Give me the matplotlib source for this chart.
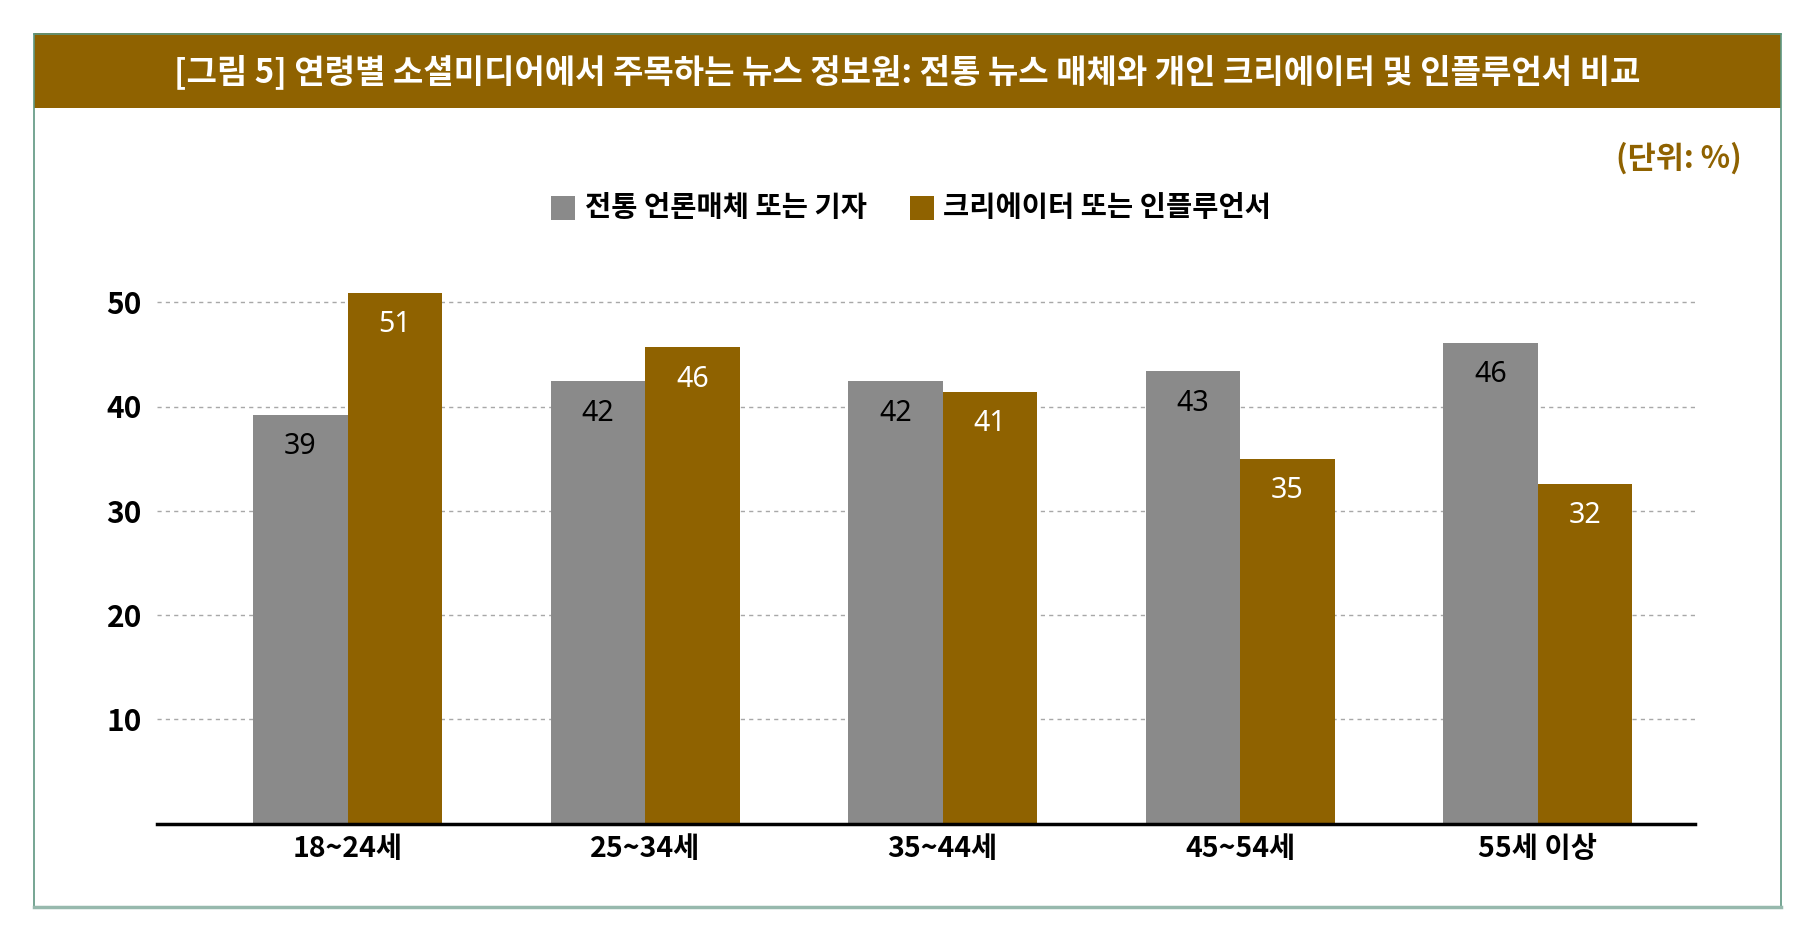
import matplotlib
matplotlib.use("Agg")
import matplotlib.pyplot as plt
import numpy as np
from matplotlib.patches import Rectangle
from matplotlib.lines import Line2D

plt.rcParams["font.family"] = ["Noto Sans CJK KR", "DejaVu Sans"]

# ---------- data ----------
categories = ["18~24세", "25~34세", "35~44세", "45~54세", "55세 이상"]
series_names = ["전통 언론매체 또는 기자", "크리에이터 또는 인플루언서"]
traditional = [39.2, 42.4, 42.4, 43.4, 46.1]
creators = [50.9, 45.7, 41.4, 35.0, 32.6]
traditional_labels = ["39", "42", "42", "43", "46"]
creators_labels = ["51", "46", "41", "35", "32"]
yticks = [10, 20, 30, 40, 50]

title = "[그림 5] 연령별 소셜미디어에서 주목하는 뉴스 정보원: 전통 뉴스 매체와 개인 크리에이터 및 인플루언서 비교"
unit_note = "(단위: %)"

GRAY = "#8a8a8a"
BROWN = "#8f6200"
FRAME = "#5e9680"
FRAME_BOTTOM = "#97b9ad"

W, H = 1815, 934
fig = plt.figure(figsize=(W / 100, H / 100), dpi=100)


def fx(px):
    return px / W


def fy(py):
    # pixel y measured from top
    return 1 - py / H


# ---------- frame and title band ----------
left_px, right_px, top_px, bot_px, band_px = 34, 1781, 33.5, 907, 107.5
fig.add_artist(Rectangle((fx(left_px), fy(band_px)), fx(right_px - left_px),
                         (band_px - top_px) / H, transform=fig.transFigure,
                         facecolor=BROWN, edgecolor="none", zorder=1))
for (x0, y0, x1, y1, c, lw) in [
    (left_px, top_px, right_px, top_px, FRAME, 1.2),
    (left_px, top_px, left_px, bot_px, FRAME, 1.2),
    (right_px, top_px, right_px, bot_px, FRAME, 1.2),
    (left_px, bot_px, right_px, bot_px, FRAME_BOTTOM, 2.5),
]:
    fig.add_artist(Line2D([fx(x0), fx(x1)], [fy(y0), fy(y1)],
                          transform=fig.transFigure, color=c, lw=lw, zorder=2))

fig.text(fx((left_px + right_px) / 2), fy(72), title, ha="center", va="center",
         color="white", fontsize=23.8, fontweight="bold")
fig.text(fx(1742), fy(158), unit_note, ha="right", va="center",
         color=BROWN, fontsize=22, fontweight="bold")

# ---------- legend (manual) ----------
leg_y = 208
for sq_x, txt_x, color, name in [(551, 585, GRAY, series_names[0]),
                                  (910, 943, BROWN, series_names[1])]:
    fig.add_artist(Rectangle((fx(sq_x), fy(leg_y + 12)), fx(24), 24 / H,
                             transform=fig.transFigure, facecolor=color,
                             edgecolor="none"))
    fig.text(fx(txt_x), fy(leg_y), name, ha="left", va="center",
             color="black", fontsize=20.5, fontweight="bold")

# ---------- axes ----------
ax_left, ax_right, ax_bottom = 157.3, 1695, 823.7
ymax = 55
px_per_unit = 104.3 / 10
ax_top = ax_bottom - ymax * px_per_unit
ax = fig.add_axes([fx(ax_left), fy(ax_bottom), fx(ax_right - ax_left),
                   (ax_bottom - ax_top) / H])

x = np.arange(len(categories))
bw = 0.318
b1 = ax.bar(x - bw / 2, traditional, bw, color=GRAY, zorder=3)
b2 = ax.bar(x + bw / 2, creators, bw, color=BROWN, zorder=3)

for bars, labels, col in [(b1, traditional_labels, "black"),
                          (b2, creators_labels, "white")]:
    for rect, lab in zip(bars, labels):
        ax.annotate(lab, (rect.get_x() + rect.get_width() / 2, rect.get_height()),
                    xytext=(0, -32), textcoords="offset pixels",
                    ha="center", va="center", color=col, fontsize=20.5,
                    family=["Noto Sans", "DejaVu Sans"], fontweight=600,
                    zorder=4)

ax.set_xlim(-0.640, 4.529)
ax.set_ylim(0, ymax)
ax.set_yticks(yticks)
ax.set_yticklabels([str(t) for t in yticks], fontsize=21.5, fontweight="bold")
ax.set_xticks(x)
ax.set_xticklabels(categories, fontsize=20.5, fontweight="bold")
ax.tick_params(axis="y", length=0, pad=11)
ax.tick_params(axis="x", length=0, pad=8)

ax.grid(axis="y", color="#a8a8a8", linestyle=(0, (3, 3)), linewidth=1.0, zorder=0)
ax.set_axisbelow(True)
for s in ["top", "right", "left"]:
    ax.spines[s].set_visible(False)
ax.spines["bottom"].set_linewidth(2.5)
ax.spines["bottom"].set_color("black")
ax.spines["bottom"].set_zorder(5)
ax.patch.set_alpha(0)

fig.savefig("out.png", dpi=100)
